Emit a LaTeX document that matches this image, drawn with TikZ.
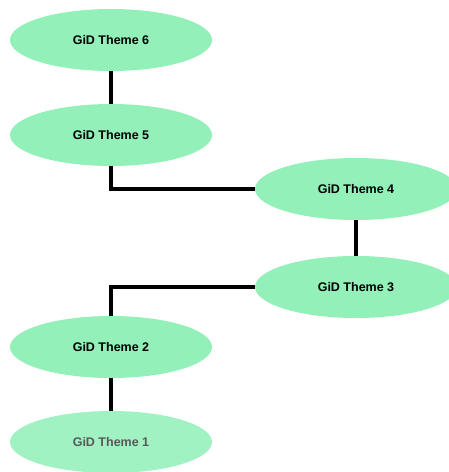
\documentclass[tikz,border=0pt]{standalone}
\usepackage{fontspec}
\setmainfont{Liberation Sans}
\usetikzlibrary{shapes.geometric}
\definecolor{themefill}{RGB}{146,240,184}
\definecolor{themefaint}{RGB}{160,242,194}
\tikzset{
  theme/.style={ellipse, fill=themefill, draw=none, minimum width=202pt, minimum height=62pt, inner sep=0pt,
    font=\bfseries\fontsize{12.5}{14}\selectfont},
  faint/.style={theme, fill=themefaint, text=black!65},
  link/.style={draw=black, line width=3.2pt}
}
\begin{document}
\begin{tikzpicture}[x=1pt,y=-1pt]
\useasboundingbox (0,0) rectangle (449,472);
\begin{scope}
\clip (0,0) rectangle (449,472);
\node[theme] (t6) at (111,40) {GiD Theme 6};
\node[theme] (t5) at (111,135) {GiD Theme 5};
\node[theme] (t4) at (356,189) {GiD Theme 4};
\node[theme] (t3) at (356,287) {GiD Theme 3};
\node[theme] (t2) at (111,347) {GiD Theme 2};
\node[faint] (t1) at (111,442) {GiD Theme 1};
\draw[link] (t6) -- (t5);
\draw[link] (t5.south) |- (t4.west);
\draw[link] (t4) -- (t3);
\draw[link] (t3.west) -| (t2.north);
\draw[link] (t2) -- (t1);
\end{scope}
\end{tikzpicture}
\end{document}
